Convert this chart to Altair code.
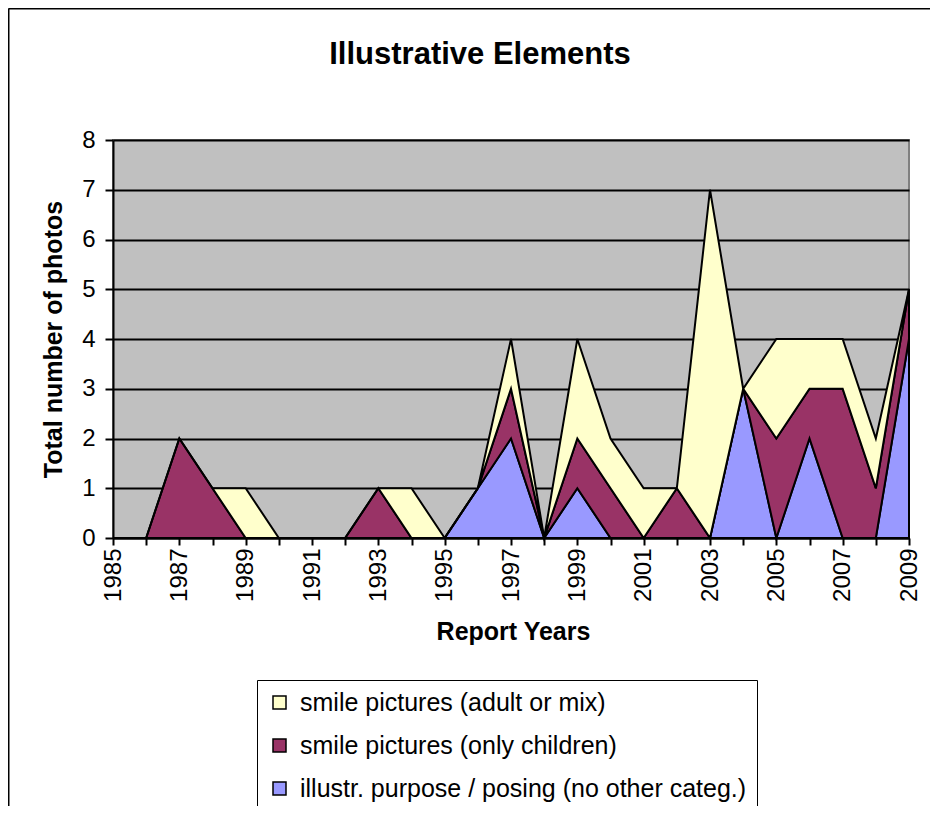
import altair as alt
import pandas as pd

years = list(range(1985, 2010))
posing = [0, 0, 0, 0, 0, 0, 0, 0, 0, 0, 0, 1, 2, 0, 1, 0, 0, 0, 0, 3, 0, 2, 0, 0, 4]
children = [0, 0, 2, 1, 0, 0, 0, 0, 1, 0, 0, 0, 1, 0, 1, 1, 0, 1, 0, 0, 2, 1, 3, 1, 1]
adult = [0, 0, 0, 0, 1, 0, 0, 0, 0, 1, 0, 0, 1, 0, 2, 1, 1, 0, 7, 0, 2, 1, 1, 1, 0]

series_names = [
    "smile pictures (adult or mix)",
    "smile pictures (only children)",
    "illustr. purpose / posing (no other categ.)",
]
series_colors = ["#FFFFCC", "#993366", "#9999FF"]
stack_rank = {series_names[2]: 0, series_names[1]: 1, series_names[0]: 2}

rows = []
for name, vals in [(series_names[2], posing), (series_names[1], children), (series_names[0], adult)]:
    for yr, v in zip(years, vals):
        rows.append({"year": yr, "value": v, "series": name, "rank": stack_rank[name]})
df = pd.DataFrame(rows)

FONT = "Liberation Sans"

areas = alt.Chart(df).mark_area(
    stroke="black", strokeWidth=2, opacity=1, interpolate="linear"
).encode(
    x=alt.X(
        "year:Q",
        scale=alt.Scale(domain=[1985, 2009], nice=False, zero=False),
        axis=alt.Axis(
            title="Report Years",
            values=years,
            format="d",
            labelExpr="datum.value % 2 == 1 ? datum.label : ''",
            labelAngle=270,
            labelFontSize=24,
            labelColor="black",
            labelPadding=3,
            tickSize=7,
            tickColor="black",
            tickWidth=2,
            domainColor="black",
            domainWidth=2,
            grid=False,
            titleFontSize=25,
            titleFontWeight="bold",
            titleColor="black",
            titleBaseline="middle",
            titleX=400,
            titleY=93,
        ),
    ),
    y=alt.Y(
        "value:Q",
        stack="zero",
        scale=alt.Scale(domain=[0, 8], nice=False),
        axis=alt.Axis(
            title="Total number of photos",
            values=list(range(0, 9)),
            labelFontSize=24,
            labelColor="black",
            labelPadding=10,
            tickSize=8,
            tickColor="black",
            tickWidth=2,
            domainColor="black",
            domainWidth=2,
            grid=True,
            gridColor="black",
            gridWidth=2,
            gridOpacity=1,
            titleFontSize=25,
            titleFontWeight="bold",
            titleColor="black",
            titleAlign="center",
            titleBaseline="middle",
            titleX=-60,
            titleY=199,
        ),
    ),
    color=alt.Color(
        "series:N",
        scale=alt.Scale(domain=series_names, range=series_colors),
        legend=alt.Legend(
            title=None,
            orient="none",
            legendX=144,
            legendY=540,
            direction="vertical",
            strokeColor="black",
            fillColor="white",
            padding=10,
            rowPadding=17,
            symbolType="square",
            symbolSize=169,
            symbolStrokeColor="black",
            symbolStrokeWidth=1.5,
            symbolOpacity=1,
            labelFontSize=25,
            labelColor="black",
            labelOffset=8,
            labelLimit=700,
        ),
    ),
    order=alt.Order("rank:Q", sort="ascending"),
)

frame_df = pd.DataFrame({"k": [0]})
frame_left = alt.Chart(frame_df).mark_rule(color="black", strokeWidth=2).encode(
    x=alt.value(-104.5), y=alt.value(-131.5), y2=alt.value(700)
)
frame_top = alt.Chart(frame_df).mark_rule(color="black", strokeWidth=2).encode(
    x=alt.value(-104.5), x2=alt.value(900), y=alt.value(-131.5)
)

chart = alt.layer(areas, frame_left, frame_top).properties(
    width=796,
    height=398,
    autosize=alt.AutoSizeParams(type="none"),
    padding={"left": 105, "top": 132, "right": 21, "bottom": 268},
    title=alt.TitleParams(
        "Illustrative Elements",
        fontSize=31,
        fontWeight="bold",
        color="black",
        anchor="middle",
        frame="group",
        baseline="alphabetic",
        dx=-31,
        offset=-87,
    ),
).configure(
    font=FONT,
    background="white",
).configure_view(
    fill="#C0C0C0",
    stroke="#808080",
    strokeWidth=2,
)

chart.save("out.html", embed_options={"renderer": "svg", "actions": False})
